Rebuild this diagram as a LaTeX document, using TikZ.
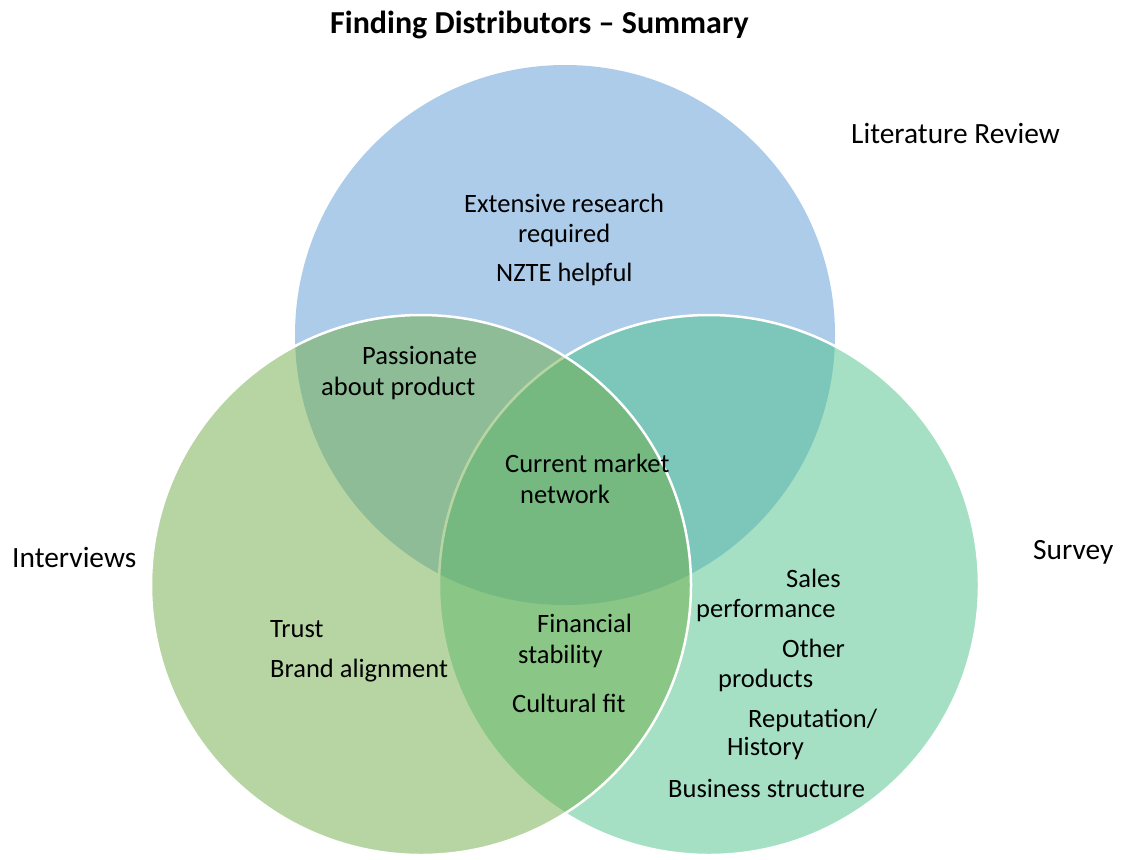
\documentclass[tikz,border=0pt]{standalone}
\usepackage{fontspec}
\setmainfont{Carlito}
\definecolor{bluec}{HTML}{5B9BD5}
\definecolor{rightc}{HTML}{4DC38D}
\definecolor{leftc}{HTML}{70AD47}
\begin{document}
\begin{tikzpicture}[x=1pt,y=-1pt,
  venn/.style={circle, minimum size=540pt, inner sep=0pt, fill opacity=0.5},
  inner/.style={font=\fontsize{26.5}{30}\selectfont, inner sep=0pt, anchor=base west, text=black},
  outer/.style={font=\fontsize{29.4}{34}\selectfont, inner sep=0pt, anchor=base west, text=black},
  ttl/.style={font=\fontsize{32}{38}\selectfont\bfseries, inner sep=0pt, anchor=base west, text=black}]
\useasboundingbox[fill=white] (0,0) rectangle (1123,859);
% circles: order blue, right, left
\node[venn, fill=bluec] (lit) at (565,335) {};
\node[venn, fill=rightc, draw=white, draw opacity=1, line width=2.5pt] (sur) at (709,585) {};
\node[venn, fill=leftc, draw=white, draw opacity=1, line width=2.5pt] (int) at (421,585) {};
% title and set labels
\node[ttl] (title) at (330,34) {Finding Distributors – Summary};
\node[outer] (llit) at (851,143) {Literature Review};
\node[outer] (lint) at (12,567) {Interviews};
\node[outer] (lsur) at (1033,559) {Survey};
% literature only
\node[inner] (a1) at (464,212) {Extensive research};
\node[inner] (a2) at (518,242) {required};
\node[inner] (a3) at (496,281) {NZTE helpful};
% literature & interviews
\node[inner] (b1) at (362,364) {Passionate};
\node[inner] (b2) at (321,395) {about product};
% all three
\node[inner] (c1) at (505,472) {Current market};
\node[inner] (c2) at (520,503) {network};
% interviews only
\node[inner] (d1) at (270,637) {Trust};
\node[inner] (d2) at (270,677) {Brand alignment};
% interviews & survey
\node[inner] (e1) at (537,632) {Financial};
\node[inner] (e2) at (518,663) {stability};
\node[inner] (e3) at (512,712) {Cultural fit};
% survey only
\node[inner] (f1) at (786,587) {Sales};
\node[inner] (f2) at (696,617) {performance};
\node[inner] (f3) at (782,657) {Other};
\node[inner] (f4) at (718,687) {products};
\node[inner] (f5) at (748,727) {Reputation/};
\node[inner] (f6) at (727,755) {History};
\node[inner] (f7) at (668,797) {Business structure};
\end{tikzpicture}
\end{document}
